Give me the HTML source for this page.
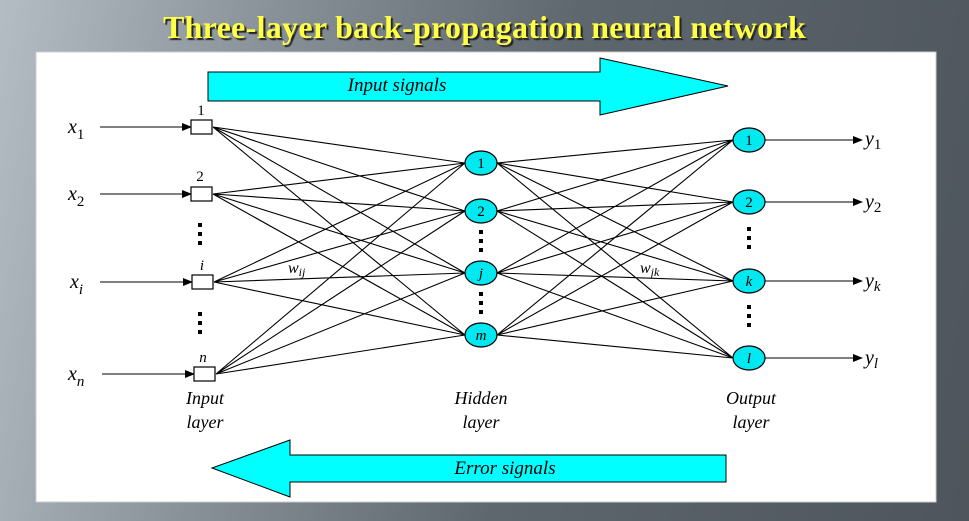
<!DOCTYPE html>
<html><head><meta charset="utf-8"><style>
html,body{margin:0;padding:0}
body{width:969px;height:521px;overflow:hidden;background:linear-gradient(100deg,#b4bcc4 0%,#8a929a 25%,#5e666e 55%,#4e555c 100%);position:relative;font-family:"Liberation Serif",serif}
.title{position:absolute;left:0;width:969px;top:9px;text-align:center;font-weight:bold;font-size:32px;color:#ffff44;text-shadow:2px 2px 1px #222;letter-spacing:0.3px}
svg{position:absolute;left:0;top:0}
</style></head><body>
<div class="title">Three-layer back-propagation neural network</div>
<svg width="969" height="521" viewBox="0 0 969 521">
<defs><marker id="a" markerWidth="10" markerHeight="8" refX="9" refY="4" orient="auto" markerUnits="userSpaceOnUse"><path d="M0,0 L10,4 L0,8 z" fill="#000"/></marker></defs>
<rect x="36" y="52" width="900" height="450" fill="#fff" stroke="#ccc"/>
<polygon points="208,72 600,72 600,58 728,86 600,115 600,101 208,101" fill="#00ffff" stroke="#000"/>
<text x="397" y="91" font-size="19" font-style="italic" text-anchor="middle">Input signals</text>
<polygon points="726,455 290,455 290,440 212,468 290,497 290,482 726,482" fill="#00ffff" stroke="#000"/>
<text x="505" y="474" font-size="19" font-style="italic" text-anchor="middle">Error signals</text>
<g stroke="#000" stroke-width="1.1" fill="none">
<path d="M213,127 L465,163 M213,127 L465,211 M213,127 L465,273 M213,127 L465,335
M213,194 L465,163 M213,194 L465,211 M213,194 L465,273 M213,194 L465,335
M214,282 L465,163 M214,282 L465,211 M214,282 L465,273 M214,282 L465,335
M216,374 L465,163 M216,374 L465,211 M216,374 L465,273 M216,374 L465,335"/>
<path d="M497,163 L733,140 M497,163 L733,202 M497,163 L733,281 M497,163 L733,358
M497,211 L733,140 M497,211 L733,202 M497,211 L733,281 M497,211 L733,358
M497,273 L733,140 M497,273 L733,202 M497,273 L733,281 M497,273 L733,358
M497,335 L733,140 M497,335 L733,202 M497,335 L733,281 M497,335 L733,358"/>
<path marker-end="url(#a)" d="M100,127 L191,127"/>
<path marker-end="url(#a)" d="M100,194 L191,194"/>
<path marker-end="url(#a)" d="M100,282 L192,282"/>
<path marker-end="url(#a)" d="M102,374 L194,374"/>
<path marker-end="url(#a)" d="M765,140 L862,140"/>
<path marker-end="url(#a)" d="M765,202 L862,202"/>
<path marker-end="url(#a)" d="M765,281 L862,281"/>
<path marker-end="url(#a)" d="M765,358 L862,358"/>
</g>
<g fill="#fff" stroke="#000" stroke-width="1.2">
<rect x="191" y="120" width="21" height="14"/><rect x="191" y="187" width="21" height="14"/>
<rect x="192" y="275" width="21" height="14"/><rect x="194" y="367" width="21" height="14"/>
</g>
<g fill="#00e8f0" stroke="#000" stroke-width="1.2">
<ellipse cx="481" cy="163" rx="16" ry="12"/><ellipse cx="481" cy="211" rx="16" ry="12"/>
<ellipse cx="481" cy="273" rx="16" ry="12"/><ellipse cx="481" cy="335" rx="16" ry="12"/>
<ellipse cx="749" cy="140" rx="16" ry="12"/><ellipse cx="749" cy="202" rx="16" ry="12"/>
<ellipse cx="749" cy="281" rx="16" ry="12"/><ellipse cx="749" cy="358" rx="16" ry="12"/>
</g>
<g font-size="15" text-anchor="middle">
<text x="481" y="168">1</text><text x="481" y="216">2</text><text x="481" y="278" font-style="italic">j</text><text x="481" y="340" font-style="italic">m</text>
<text x="749" y="145">1</text><text x="749" y="207">2</text><text x="749" y="286" font-style="italic">k</text><text x="749" y="363" font-style="italic">l</text>
<text x="201" y="115">1</text><text x="200" y="181">2</text><text x="202" y="270" font-style="italic">i</text><text x="203" y="362" font-style="italic">n</text>
</g>
<g fill="#000">
<rect x="198" y="223" width="4" height="4"/><rect x="198" y="232" width="4" height="4"/><rect x="198" y="241" width="4" height="4"/>
<rect x="198" y="312" width="4" height="4"/><rect x="198" y="321" width="4" height="4"/><rect x="198" y="330" width="4" height="4"/>
<rect x="479" y="230" width="4" height="4"/><rect x="479" y="239" width="4" height="4"/><rect x="479" y="248" width="4" height="4"/>
<rect x="479" y="292" width="4" height="4"/><rect x="479" y="301" width="4" height="4"/><rect x="479" y="310" width="4" height="4"/>
<rect x="747" y="227" width="4" height="4"/><rect x="747" y="236" width="4" height="4"/><rect x="747" y="245" width="4" height="4"/>
<rect x="747" y="305" width="4" height="4"/><rect x="747" y="314" width="4" height="4"/><rect x="747" y="323" width="4" height="4"/>
</g>
<g font-size="20" font-style="italic">
<text x="68" y="133">x<tspan font-size="15" font-style="normal" dy="6">1</tspan></text>
<text x="68" y="200">x<tspan font-size="15" font-style="normal" dy="6">2</tspan></text>
<text x="70" y="288">x<tspan font-size="15" dy="6">i</tspan></text>
<text x="68" y="380">x<tspan font-size="15" dy="6">n</tspan></text>
<text x="865" y="145">y<tspan font-size="15" font-style="normal" dy="4">1</tspan></text>
<text x="865" y="208">y<tspan font-size="15" font-style="normal" dy="4">2</tspan></text>
<text x="865" y="287">y<tspan font-size="15" dy="4">k</tspan></text>
<text x="865" y="364">y<tspan font-size="15" dy="4">l</tspan></text>
</g>
<g font-size="16" font-style="italic">
<text x="288" y="273">w<tspan font-size="12" dy="3">ij</tspan></text>
<text x="640" y="273">w<tspan font-size="12" dy="3">jk</tspan></text>
</g>
<g font-size="18" font-style="italic" text-anchor="middle">
<text x="205" y="404">Input</text><text x="205" y="428">layer</text>
<text x="481" y="404">Hidden</text><text x="481" y="428">layer</text>
<text x="751" y="404">Output</text><text x="751" y="428">layer</text>
</g>
</svg>
</body></html>
